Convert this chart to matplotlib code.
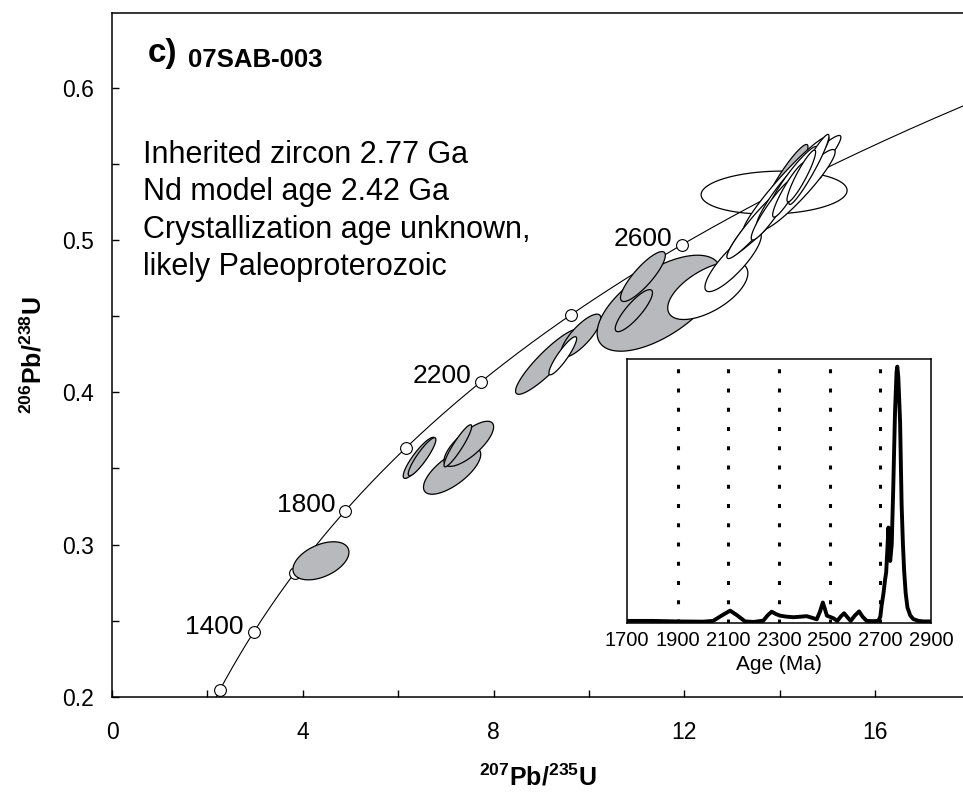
import numpy as np
import matplotlib
matplotlib.use("Agg")
import matplotlib.pyplot as plt
from matplotlib.ticker import MultipleLocator

plt.rcParams['font.family'] = ['Liberation Sans', 'DejaVu Sans']
plt.rcParams['mathtext.fontset'] = 'custom'
plt.rcParams['mathtext.rm'] = 'Liberation Sans'
plt.rcParams['mathtext.bf'] = 'Liberation Sans:bold'

# decay constants (1/yr) used for the concordia curve
L238 = 1.55125e-10
L235 = 9.8485e-10

# concordia age markers (Ma) and the ones that get a label
marker_ages = [1200, 1400, 1600, 1800, 2000, 2200, 2400, 2600, 2800]
label_ages = [1400, 1800, 2200, 2600]

# error ellipses: 207Pb/235U, half-extent, 206Pb/238U, half-extent, error correlation
gray_x = [4.38, 6.44, 6.50, 7.13, 7.48, 7.25, 9.14, 9.83, 11.47, 11.13, 10.94, 14.13]
gray_sx = [0.587, 0.335, 0.29, 0.60, 0.52, 0.29, 0.68, 0.42, 1.30, 0.47, 0.39, 0.46]
gray_y = [0.2894, 0.357, 0.3577, 0.3485, 0.3662, 0.3649, 0.4201, 0.4372, 0.4585, 0.476, 0.4536, 0.541]
gray_sy = [0.0125, 0.0135, 0.0125, 0.0154, 0.0148, 0.0138, 0.0214, 0.0141, 0.0315, 0.0164, 0.0138, 0.0217]
gray_rho = [0.45, 0.88, 0.9, 0.7, 0.75, 0.92, 0.9, 0.8, 0.62, 0.85, 0.85, 0.93]

white_x = [9.45, 12.49, 13.02, 14.09, 14.13, 13.56, 14.38, 14.03, 14.28, 14.61, 13.85, 14.20, 14.45]
white_sx = [0.29, 0.84, 0.59, 1.19, 0.90, 0.67, 0.78, 0.52, 0.52, 0.42, 0.45, 0.35, 0.30]
white_y = [0.424, 0.4668, 0.4858, 0.5286, 0.5364, 0.5121, 0.5331, 0.5298, 0.5397, 0.5463, 0.5200, 0.5330, 0.5420]
white_sy = [0.0125, 0.019, 0.0197, 0.040, 0.0315, 0.0243, 0.0263, 0.0217, 0.0217, 0.023, 0.0200, 0.0180, 0.0170]
white_rho = [0.9, 0.6, 0.85, 0.97, 0.96, 0.95, 0.94, 0.93, 0.93, 0.95, 0.93, 0.92, 0.92]

# wide, nearly uncorrelated analysis drawn below the concordia line
flat_x, flat_sx, flat_y, flat_sy, flat_rho = 13.88, 1.53, 0.5311, 0.0141, 0.1

# probability density of ages (inset)
pdf_age = [1700, 1800, 1900, 2000, 2040, 2075, 2107, 2135, 2166, 2200, 2238, 2255,
           2271, 2288, 2304, 2330, 2357, 2385, 2409, 2430, 2449, 2462, 2473, 2481,
           2489, 2515, 2530, 2545, 2557, 2570, 2583, 2600, 2616, 2630, 2646, 2670,
           2692, 2700, 2705, 2712, 2719, 2723, 2728, 2732, 2736, 2739, 2745, 2751,
           2758, 2764, 2767, 2771, 2778, 2784, 2789, 2794, 2800, 2807, 2818, 2830,
           2850, 2870, 2900]
pdf_val = [0.004, 0.004, 0.002, 0.001, 0.004, 0.025, 0.043, 0.025, 0.002, 0.0, 0.005, 0.025,
           0.039, 0.03, 0.024, 0.02, 0.018, 0.02, 0.022, 0.016, 0.01, 0.04, 0.074, 0.05,
           0.024, 0.014, 0.004, 0.022, 0.033, 0.018, 0.004, 0.025, 0.040, 0.02, 0.004, 0.003,
           0.004, 0.02, 0.062, 0.106, 0.163, 0.188, 0.28, 0.359, 0.26, 0.232, 0.295, 0.51,
           0.80, 0.95, 0.971, 0.93, 0.76, 0.447, 0.30, 0.194, 0.11, 0.055, 0.025, 0.011,
           0.004, 0.002, 0.002]
inset_ticks = [1700, 1900, 2100, 2300, 2500, 2700, 2900]
inset_lines = [1900, 2100, 2300, 2500, 2700]

notes = ["Inherited zircon 2.77 Ga",
         "Nd model age 2.42 Ga",
         "Crystallization age unknown,",
         "likely Paleoproterozoic"]

GRAY = '#b8b9bc'


def concordia(age_ma):
    t = np.asarray(age_ma, dtype=float) * 1e6
    return np.exp(L235 * t) - 1, np.exp(L238 * t) - 1


def ellipse(ax, cx, sx, cy, sy, rho, face, z):
    t = np.linspace(0, 2 * np.pi, 200)
    ex = cx + sx * np.cos(t)
    ey = cy + sy * (rho * np.cos(t) + np.sqrt(1 - rho ** 2) * np.sin(t))
    ax.fill(ex, ey, facecolor=face, edgecolor='black', linewidth=0.9, zorder=z)


fig = plt.figure(figsize=(9.63, 7.94), dpi=100)
ax = fig.add_axes([112 / 963, 1 - 697 / 794, 851 / 963, 684 / 794])

# concordia curve + markers
cx, cy = concordia(np.linspace(1100, 3100, 400))
ax.plot(cx, cy, color='black', linewidth=0.8, zorder=2)
mx, my = concordia(marker_ages)
ax.plot(mx, my, 'o', markersize=8.5, markerfacecolor='white',
        markeredgecolor='black', markeredgewidth=0.8, zorder=2.5)
for age in label_ages:
    px, py = concordia(age)
    ax.annotate(str(age), (px, py), xytext=(-7, -1), textcoords='offset points',
                ha='right', va='baseline', fontsize=19)

ellipse(ax, flat_x, flat_sx, flat_y, flat_sy, flat_rho, 'white', 1)
for i in range(len(gray_x)):
    ellipse(ax, gray_x[i], gray_sx[i], gray_y[i], gray_sy[i], gray_rho[i], GRAY, 3 + i * 0.01)
for i in range(len(white_x)):
    ellipse(ax, white_x[i], white_sx[i], white_y[i], white_sy[i], white_rho[i], 'white', 4 + i * 0.01)

ax.set_xlim(0, 17.84)
ax.set_ylim(0.2, 0.649)
ax.xaxis.set_major_locator(MultipleLocator(4))
ax.xaxis.set_minor_locator(MultipleLocator(2))
ax.yaxis.set_major_locator(MultipleLocator(0.1))
ax.yaxis.set_minor_locator(MultipleLocator(0.05))
ax.tick_params(which='both', direction='in', length=5, width=1.0, top=False, right=False)
ax.tick_params(axis='x', labelsize=16.5, pad=17)
ax.tick_params(axis='y', labelsize=16.5, pad=13)
ax.yaxis.set_major_formatter(plt.FuncFormatter(lambda v, p: f"{v:.1f}"))
ax.spines['right'].set_visible(False)
for s in ['left', 'bottom', 'top']:
    ax.spines[s].set_linewidth(1.1)

ax.set_xlabel(r'$\mathbf{^{207}Pb/^{235}U}$', fontsize=18, labelpad=15)
ax.set_ylabel(r'$\mathbf{^{206}Pb/^{238}U}$', fontsize=18, labelpad=11)

ax.text(0.0423, 0.928, 'c)', transform=ax.transAxes, fontsize=24, fontweight='bold',
        ha='left', va='baseline')
ax.text(0.0893, 0.921, '07SAB-003', transform=ax.transAxes, fontsize=18.5, fontweight='bold',
        ha='left', va='baseline')
for k, line in enumerate(notes):
    ax.text(0.0364, 0.7807 - k * 0.0546, line, transform=ax.transAxes, fontsize=22,
            ha='left', va='baseline')

# inset probability density
ins = fig.add_axes([627 / 963, 1 - 623 / 794, 304 / 963, 264 / 794])
ins.plot(pdf_age, pdf_val, color='black', linewidth=2.8, solid_joinstyle='round')
for a in inset_lines:
    ins.axvline(a, color='black', linewidth=2.2, linestyle=(0, (1.3, 5.0)), zorder=0)
ins.set_xlim(1700, 2900)
ins.set_ylim(-0.004, 1.0)
ins.set_xticks(inset_ticks)
ins.set_yticks([])
ins.tick_params(axis='x', length=0, labelsize=14.5, pad=6)
for s in ins.spines.values():
    s.set_linewidth(1.1)
ins.set_xlabel('Age (Ma)', fontsize=15, labelpad=3)

fig.savefig('out.png', dpi=100)
